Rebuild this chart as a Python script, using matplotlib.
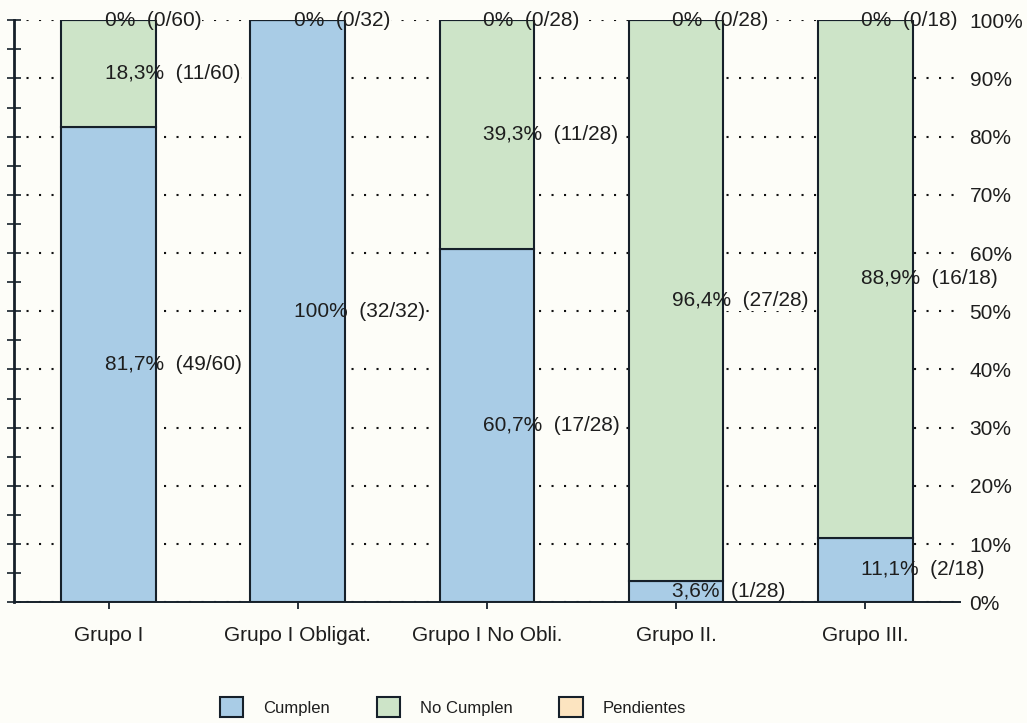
import numpy as np
import matplotlib
matplotlib.use('Agg')
import matplotlib.pyplot as plt
from matplotlib.ticker import MultipleLocator, FuncFormatter

CATEGORIES = ['Grupo I', 'Grupo I Obligat.', 'Grupo I No Obli.', 'Grupo II.', 'Grupo III.']
CUMPLEN = [49, 32, 17, 1, 2]
NO_CUMPLEN = [11, 0, 11, 27, 16]
PENDIENTES = [0, 0, 0, 0, 0]
SERIES_NAMES = ['Cumplen', 'No Cumplen', 'Pendientes']

COLORS = ['#a9cce6', '#cde4c8', '#fce4c0']
EDGE_COLOR = '#16202a'
TEXT_COLOR = '#1e1e1e'
BACKGROUND = '#fdfdf8'
FONT_SIZE = 15


def format_percent(value):
    if abs(value - round(value)) < 1e-9:
        return '%d%%' % round(value)
    return ('%.1f%%' % value).replace('.', ',')


def main():
    plt.rcParams['font.family'] = ['Liberation Sans', 'DejaVu Sans']
    series = [np.array(CUMPLEN), np.array(NO_CUMPLEN), np.array(PENDIENTES)]
    totals = series[0] + series[1] + series[2]
    positions = np.arange(len(CATEGORIES))

    fig = plt.figure(figsize=(10.27, 7.23), dpi=100, facecolor=BACKGROUND)
    ax = fig.add_axes([0.0136, 0.167, 0.921, 0.805])
    ax.set_facecolor(BACKGROUND)

    bottoms = np.zeros(len(CATEGORIES))
    for idx, counts in enumerate(series):
        pct = counts / totals * 100
        ax.bar(positions, pct, 0.5, bottom=bottoms, color=COLORS[idx],
               edgecolor=EDGE_COLOR, linewidth=1.5, label=SERIES_NAMES[idx], zorder=2)
        for pos in positions:
            if counts[pos] == 0 and idx != len(series) - 1:
                continue
            middle = bottoms[pos] + pct[pos] / 2
            text = '%s  (%d/%d)' % (format_percent(pct[pos]), counts[pos], totals[pos])
            # blank copy below the bars hides the dotted grid behind the label
            ax.text(pos - 0.02, middle, text, ha='left', va='center',
                    fontsize=FONT_SIZE, color=BACKGROUND, zorder=1.5,
                    bbox=dict(facecolor=BACKGROUND, edgecolor='none', pad=0.5))
            ax.text(pos - 0.02, middle, text, ha='left', va='center',
                    fontsize=FONT_SIZE, color=TEXT_COLOR, zorder=4)
        bottoms = bottoms + pct

    ax.set_xlim(-0.5, 4.5)
    ax.set_ylim(0, 100)
    ax.yaxis.set_major_locator(MultipleLocator(10))
    ax.yaxis.set_minor_locator(MultipleLocator(5))
    ax.yaxis.grid(True, which='major', color='#111111', linestyle=(0, (1, 5)),
                  linewidth=1.5, zorder=1)
    ax.set_axisbelow(True)
    ax.tick_params(axis='y', which='both', direction='inout', length=10,
                   width=1.2, labelleft=False, color=EDGE_COLOR)
    ax.set_xticks(positions)
    ax.set_xticklabels(CATEGORIES, fontsize=FONT_SIZE, color=TEXT_COLOR)
    ax.tick_params(axis='x', direction='out', length=5, width=1.3, pad=12,
                   color=EDGE_COLOR)
    ax.spines['top'].set_visible(False)
    ax.spines['right'].set_visible(False)
    ax.spines['left'].set_linewidth(2)
    ax.spines['left'].set_color(EDGE_COLOR)
    ax.spines['bottom'].set_linewidth(1.4)
    ax.spines['bottom'].set_color(EDGE_COLOR)

    right = ax.twinx()
    right.set_ylim(0, 100)
    right.yaxis.set_major_locator(MultipleLocator(10))
    right.yaxis.set_major_formatter(FuncFormatter(lambda v, _: format_percent(v)))
    right.tick_params(axis='y', length=0, pad=7, labelsize=FONT_SIZE,
                      labelcolor=TEXT_COLOR)
    for side in ['top', 'right', 'left', 'bottom']:
        right.spines[side].set_visible(False)

    handles, labels = ax.get_legend_handles_labels()
    fig.legend(handles, labels, loc='center', bbox_to_anchor=(0.441, 0.022),
               ncol=3, frameon=False, fontsize=12, handlelength=1.4,
               handleheight=1.4, handletextpad=1.2, columnspacing=2.8,
               labelcolor=TEXT_COLOR)

    fig.savefig('out.png', dpi=100, facecolor=BACKGROUND)


main()
